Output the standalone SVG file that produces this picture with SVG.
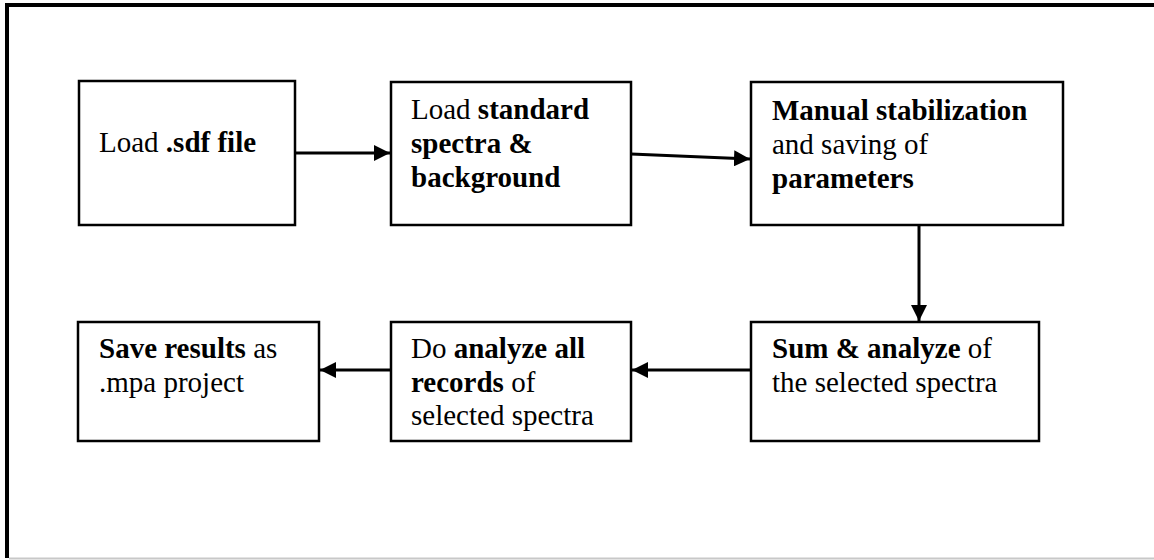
<svg xmlns="http://www.w3.org/2000/svg" width="1154" height="560" viewBox="0 0 1154 560">
  <defs>
    <marker id="arrow" viewBox="0 0 16 16" refX="16" refY="8" markerWidth="16" markerHeight="16" markerUnits="userSpaceOnUse" orient="auto">
      <path d="M0,0 L16,8 L0,16 Z" fill="#000"/>
    </marker>
    <style>
      .box { fill: #fff; stroke: #000; stroke-width: 2.5; }
      .lbl { font-family: "Liberation Serif", "Times New Roman", serif; font-size: 29px; fill: #000; }
      .b { font-weight: bold; }
      .conn { stroke: #000; stroke-width: 3; fill: none; marker-end: url(#arrow); }
    </style>
  </defs>
  <rect width="1154" height="560" fill="#fff"/>

  <!-- page frame -->
  <g id="frame">
    <line x1="5" y1="5" x2="1154" y2="5" stroke="#000" stroke-width="4"/>
    <line x1="7" y1="3" x2="7" y2="558" stroke="#000" stroke-width="4"/>
    <line x1="9" y1="558.5" x2="1154" y2="558.5" stroke="#c8c8c8" stroke-width="2"/>
  </g>

  <g id="load-sdf">
    <rect class="box" x="79" y="81" width="216" height="144"/>
    <text class="lbl" x="99" y="152">Load <tspan class="b">.sdf file</tspan></text>
  </g>

  <g id="load-standard">
    <rect class="box" x="391" y="82" width="240" height="143"/>
    <text class="lbl" x="411" y="119">Load <tspan class="b">standard</tspan></text>
    <text class="lbl b" x="411" y="153">spectra &amp;</text>
    <text class="lbl b" x="411" y="187">background</text>
  </g>

  <g id="manual-stabilization">
    <rect class="box" x="751" y="82" width="312" height="143"/>
    <text class="lbl b" x="772" y="120">Manual stabilization</text>
    <text class="lbl" x="772" y="154">and saving of</text>
    <text class="lbl b" x="772" y="188">parameters</text>
  </g>

  <g id="sum-analyze">
    <rect class="box" x="751" y="322" width="288" height="119"/>
    <text class="lbl" x="772" y="358"><tspan class="b">Sum &amp; analyze</tspan> of</text>
    <text class="lbl" x="772" y="392">the selected spectra</text>
  </g>

  <g id="analyze-all">
    <rect class="box" x="391" y="322" width="240" height="119"/>
    <text class="lbl" x="411" y="358">Do <tspan class="b">analyze all</tspan></text>
    <text class="lbl" x="411" y="392"><tspan class="b">records</tspan> of</text>
    <text class="lbl" x="411" y="425">selected spectra</text>
  </g>

  <g id="save-results">
    <rect class="box" x="78" y="322" width="241" height="119"/>
    <text class="lbl" x="99" y="358"><tspan class="b">Save results</tspan> as</text>
    <text class="lbl" x="99" y="392">.mpa project</text>
  </g>

  <g id="connectors">
    <line class="conn" x1="295" y1="153" x2="390" y2="153"/>
    <line class="conn" x1="631" y1="154" x2="750" y2="159"/>
    <line class="conn" x1="919" y1="225" x2="919" y2="321"/>
    <line class="conn" x1="751" y1="370" x2="632" y2="370"/>
    <line class="conn" x1="391" y1="370" x2="320" y2="370"/>
  </g>
</svg>
